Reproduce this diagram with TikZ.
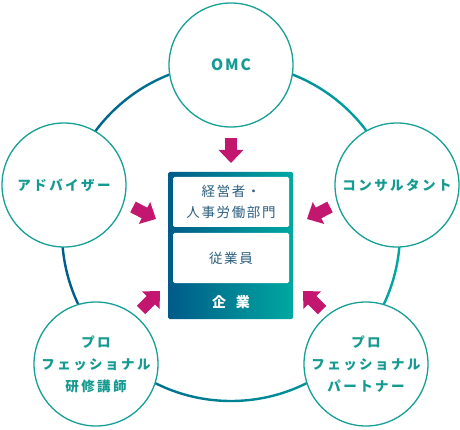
\documentclass[tikz,border=0pt]{standalone}
\usepackage{fontspec}
\newfontfamily\jpring[LetterSpace=18]{Noto Sans CJK JP}
\newfontfamily\jplatin[LetterSpace=12]{Noto Sans CJK JP}
\newfontfamily\jpbox[LetterSpace=12]{Noto Sans CJK JP}
\newfontfamily\jpwide[LetterSpace=70]{Noto Sans CJK JP}
\usepackage{xcolor}
\usetikzlibrary{arrows.meta}
\definecolor{ringdark}{HTML}{005B89}
\definecolor{ringteal}{HTML}{00A8A0}
\definecolor{circline}{HTML}{17A096}
\definecolor{circtext}{HTML}{149A90}
\definecolor{boxtext}{HTML}{2D5E7E}
\definecolor{pushmag}{HTML}{C2166F}
\begin{document}
\begin{tikzpicture}[x=1pt,y=-1pt]
   \tikzstyle{party}=[circle, draw=circline, line width=1.3pt, fill=white, minimum size=124pt, inner sep=0pt, align=center, text=circtext, font=\jpring\bfseries\fontsize{13.5}{22}\selectfont]
   \tikzstyle{inbox}=[fill=white, rounded corners=1.5pt, minimum width=116pt, inner sep=0pt, align=center, text=boxtext, font=\jpbox\fontsize{13.5}{21}\selectfont]
   \tikzstyle{push}=[draw=pushmag, line width=12pt, -{Triangle[width=24pt,length=13pt]}]
   \useasboundingbox (0,0) rectangle (460,430);
   %% ring
   \coordinate (hub) at (231,232);
   \shade[left color=ringdark, right color=ringteal, even odd rule] (hub) circle[radius=170.2] (hub) circle[radius=167.8];
   %% company box
   \shade[left color=ringdark, right color=ringteal, rounded corners=1.5pt] (168,172) rectangle (293,319);
   \node (mgmt) at (231,202) [inbox, minimum height=50pt] {経営者・\\人事労働部門};
   \node (staff) at (231,258) [inbox, minimum height=50pt] {従業員};
   \node (firm) at (231,302) [text=white, font=\jpwide\bfseries\fontsize{14}{16}\selectfont] {企業};
   %% circles
   \node (omc) at (231,65) [party, font=\jplatin\bfseries\fontsize{15.5}{18}\selectfont] {OMC};
   \node (advisor) at (64,185) [party] {アドバイザー};
   \node (consult) at (397,185) [party] {コンサルタント};
   \node (trainer) at (96,364) [party] {プロ\\フェッショナル\\研修講師};
   \node (partner) at (366,364) [party] {プロ\\フェッショナル\\パートナー};
   %% arrows
   \coordinate (omcT) at (231,138);  \coordinate (omcH) at (231,163);
   \coordinate (advT) at (133,207);  \coordinate (advH) at (156,219);
   \coordinate (conT) at (330,207);  \coordinate (conH) at (307,219);
   \coordinate (traT) at (141,310);  \coordinate (traH) at (160,291);
   \coordinate (parT) at (322,310);  \coordinate (parH) at (303,291);
   \draw[push] (omcT) -- (omcH);
   \draw[push] (advT) -- (advH);
   \draw[push] (conT) -- (conH);
   \draw[push] (traT) -- (traH);
   \draw[push] (parT) -- (parH);
\end{tikzpicture}
\end{document}
